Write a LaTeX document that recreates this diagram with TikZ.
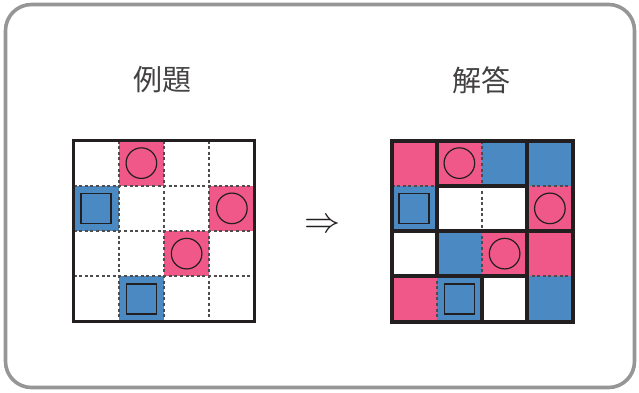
\documentclass[tikz,border=0pt]{standalone}
\usepackage{fontspec}
\newfontfamily\cjk{Noto Sans CJK JP}
\definecolor{pk}{RGB}{240,88,138}
\definecolor{bl}{RGB}{74,137,194}
\definecolor{frm}{RGB}{150,150,150}
\definecolor{ink}{RGB}{35,31,32}
\begin{document}
\begin{tikzpicture}[x=1pt,y=-1pt,
  frame/.style={draw=frm,line width=3.6pt,rounded corners=26pt},
  title/.style={font=\cjk\fontsize{29}{30}\selectfont,text=ink!85,inner sep=0pt},
  gdash/.style={draw=ink!80,line width=1.6pt,dash pattern=on 3pt off 2.6pt},
  gthick/.style={draw=ink,line width=4pt,line cap=rect},
  gouter/.style={draw=ink,line width=3.4pt},
  circ/.style={draw=ink,line width=1.2pt},
  sqr/.style={draw=ink,line width=1.7pt}]
\useasboundingbox (0,0) rectangle (639,392);
\fill[white] (0,0) rectangle (639,392);
\draw[frame] (5.5,4.5) rectangle (634.5,387.5);
\node[title] (t1) at (162,80) {例題};
\node[title] (t2) at (481,80) {解答};
\node[inner sep=0pt,scale=3.6,text=ink] (arr) at (322,226) {$\Rightarrow$};
% left grid
\def\s{45.25}
\begin{scope}[shift={(73.5,140.5)}]
  \foreach \r/\c/\col in {0/1/pk,1/0/bl,1/3/pk,2/2/pk,3/1/bl}
    \fill[\col] (\c*\s,\r*\s) rectangle ++(\s,\s);
  \foreach \i in {1,2,3} {
    \draw[gdash] (\i*\s,0) -- (\i*\s,4*\s);
    \draw[gdash] (0,\i*\s) -- (4*\s,\i*\s);
  }
  \foreach \r/\c in {0/1,1/3,2/2}
    \draw[circ] ({(\c+0.5)*\s},{(\r+0.5)*\s}) circle (15.3);
  \foreach \r/\c in {1/0,3/1}
    \draw[sqr] ({(\c+0.5)*\s-15},{(\r+0.5)*\s-15}) rectangle ++(30,30);
  \draw[gouter] (0,0) rectangle (4*\s,4*\s);
\end{scope}
% right grid
\begin{scope}[shift={(391.5,140.5)}]
  \foreach \r/\c/\col in {0/0/pk,0/1/pk,0/2/bl,0/3/bl,
                          1/0/bl,1/1/white,1/2/white,1/3/pk,
                          2/0/white,2/1/bl,2/2/pk,2/3/pk,
                          3/0/pk,3/1/bl,3/2/white,3/3/bl}
    \fill[\col] (\c*\s,\r*\s) rectangle ++(\s,\s);
  \foreach \i in {1,2,3} {
    \draw[gdash] (\i*\s,0) -- (\i*\s,4*\s);
    \draw[gdash] (0,\i*\s) -- (4*\s,\i*\s);
  }
  \foreach \r/\c in {0/1,1/3,2/2}
    \draw[circ] ({(\c+0.5)*\s},{(\r+0.5)*\s}) circle (15.3);
  \foreach \r/\c in {1/0,3/1}
    \draw[sqr] ({(\c+0.5)*\s-15},{(\r+0.5)*\s-15}) rectangle ++(30,30);
  % thick vertical segments: row / boundary column index
  \foreach \r/\b in {0/1,0/3,1/1,1/3,2/1,2/3,3/2,3/3}
    \draw[gthick] (\b*\s,\r*\s) -- (\b*\s,{(\r+1)*\s});
  % thick horizontal segments: boundary row index / column
  \foreach \b/\c in {1/1,1/2,2/0,2/1,2/2,2/3,3/0,3/1,3/2}
    \draw[gthick] (\c*\s,\b*\s) -- ({(\c+1)*\s},\b*\s);
  \draw[gthick] (0,0) rectangle (4*\s,4*\s);
\end{scope}
\end{tikzpicture}
\end{document}
